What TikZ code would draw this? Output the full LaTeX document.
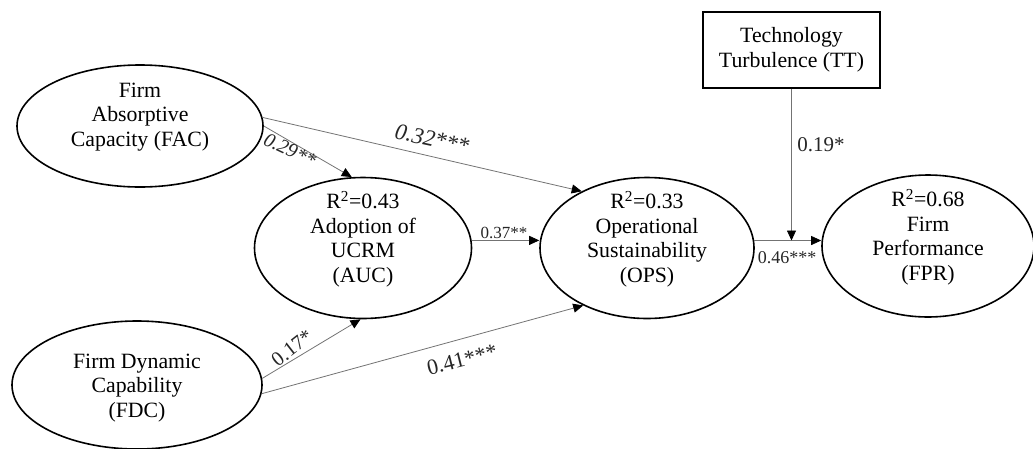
\documentclass[tikz,border=0pt]{standalone}
\usepackage{fontspec}
\setmainfont{Liberation Serif}
\usetikzlibrary{shapes.geometric,arrows.meta}
\begin{document}
\begin{tikzpicture}[x=1pt,y=-1pt,
  lat/.style={ellipse,draw,line width=1.6pt,inner sep=0pt},
  txt/.style={align=center,inner sep=0pt,font=\fontsize{21.8}{24.5}\selectfont},
  conn/.style={draw=black!55,line width=0.8pt,-{Triangle[length=10pt,width=9pt,color=black]}},
  lbl/.style={inner sep=0pt,text=black!85}]
\useasboundingbox (0,0) rectangle (1033,448);
% latent variables
\node[lat,minimum width=246pt,minimum height=122pt] (fac) at (140,126) {};
\node[txt] (fact) at (140,117) {Firm\\Absorptive\\Capacity (FAC)};
\node[lat,minimum width=217pt,minimum height=141pt] (auc) at (363,248) {};
\node[txt] (auct) at (363,239) {R\textsuperscript{2}=0.43\\Adoption of\\UCRM\\(AUC)};
\node[lat,minimum width=214pt,minimum height=141pt] (ops) at (647,248) {};
\node[txt] (opst) at (647,239) {R\textsuperscript{2}=0.33\\Operational\\Sustainability\\(OPS)};
\node[lat,minimum width=212pt,minimum height=142pt] (fpr) at (928,246) {};
\node[txt] (fprt) at (928,237) {R\textsuperscript{2}=0.68\\Firm\\Performance\\(FPR)};
\node[lat,minimum width=250pt,minimum height=128pt] (fdc) at (137,385) {};
\node[txt] (fdct) at (137,388) {Firm Dynamic\\Capability\\(FDC)};
\node[draw,line width=1.4pt,minimum width=177pt,minimum height=76pt,txt,inner sep=0pt] (tt) at (791.5,50) {Technology\\Turbulence (TT)};
% paths
\draw[conn] (fac.0) -- (auc.99);
\draw[conn] (fac.4) -- (ops.139);
\draw[conn] (auc.4) -- (auc.4 -| ops.west);
\draw[conn] (fdc.3) -- (auc.268);
\draw[conn] (fdc.-4) -- (ops.222);
\draw[conn] (ops.4) -- (ops.4 -| fpr.west);
\coordinate (mod) at (tt.south |- ops.4);
\draw[conn] (tt.south) -- (mod);
% labels
\node[lbl,font=\fontsize{20}{22}\selectfont\itshape,rotate=-25] (l1) at (290,150) {0.29**};
\node[lbl,font=\fontsize{23}{24}\selectfont\itshape,rotate=-12] (l2) at (432,139) {0.32***};
\node[lbl,font=\fontsize{17}{18}\selectfont] (l3) at (504,233) {0.37**};
\node[lbl,font=\fontsize{21}{22}\selectfont] (l4) at (821,145) {0.19*};
\node[lbl,font=\fontsize{18}{18}\selectfont] (l5) at (787,258) {0.46***};
\node[lbl,font=\fontsize{20.5}{22}\selectfont,rotate=38] (l6) at (292,348) {0.17*};
\node[lbl,font=\fontsize{22}{22}\selectfont,rotate=14] (l7) at (462,360) {0.41***};
\end{tikzpicture}
\end{document}
